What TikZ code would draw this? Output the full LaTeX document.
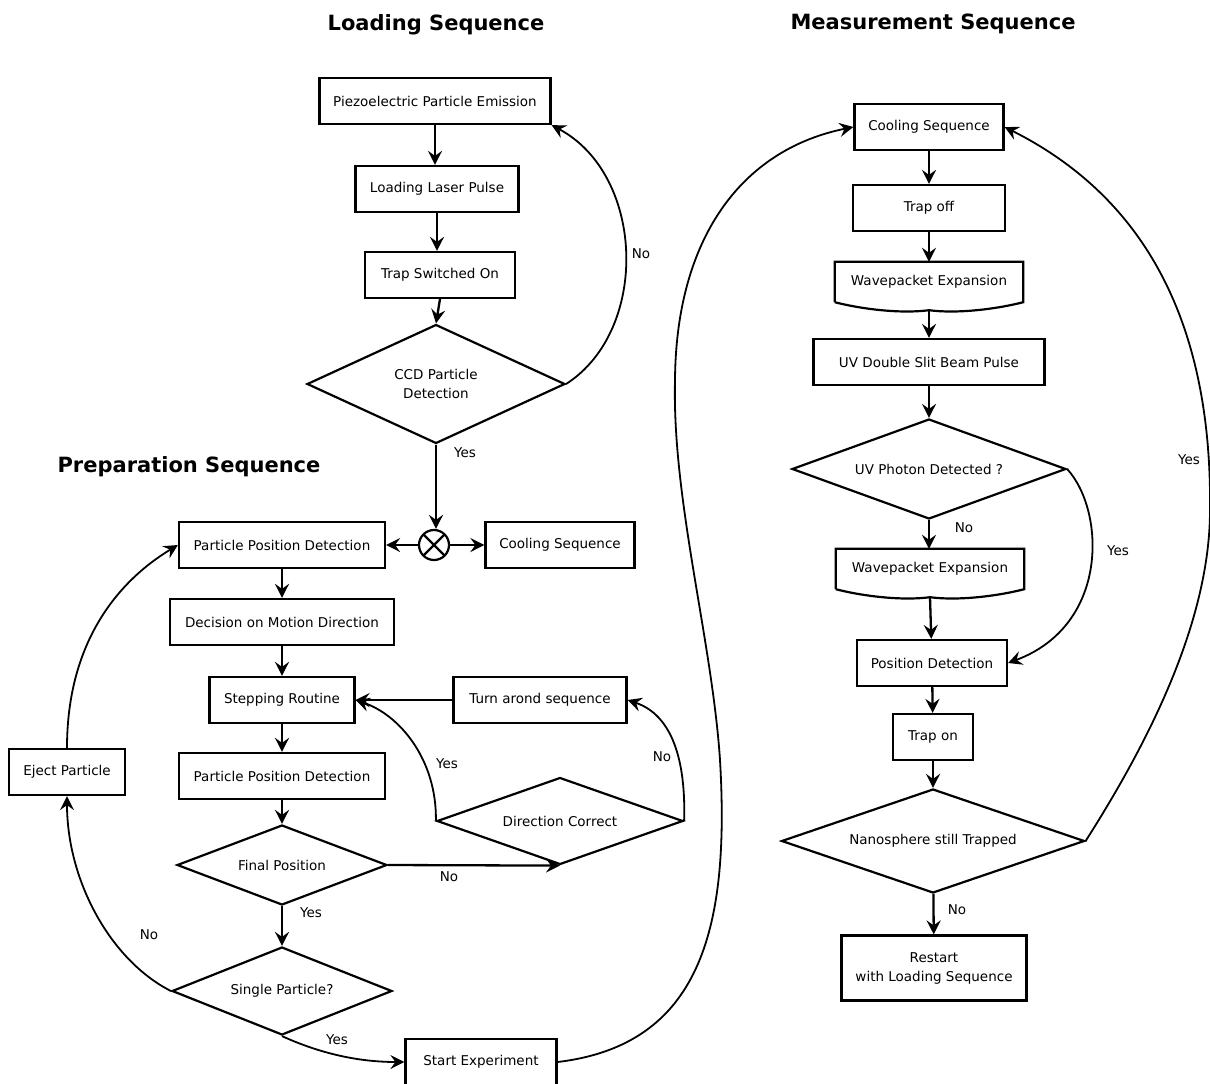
\documentclass[tikz,border=0pt]{standalone}
\usepackage{fontspec}
\setmainfont{DejaVu Sans}
\usetikzlibrary{arrows.meta,positioning,shapes.geometric}

\begin{document}
\begin{tikzpicture}[x=1pt,y=-1pt,on grid,
    font=\fontsize{13.5}{19}\selectfont,
    >={Stealth[length=14pt,width=14pt,inset=5pt]},
    block/.style={draw,line width=2.2pt,minimum height=46pt,inner xsep=10pt},
    decision/.style={diamond,draw,line width=2.2pt,aspect=2,inner sep=0pt,align=center},
    waveblock/.style={minimum width=188pt,minimum height=40pt,inner sep=0pt},
    junction/.style={circle,draw,line width=2.2pt,minimum size=30pt,inner sep=0pt,
      path picture={\draw[line width=2.2pt]
        (path picture bounding box.north west) -- (path picture bounding box.south east)
        (path picture bounding box.north east) -- (path picture bounding box.south west);}},
    title/.style={font=\fontsize{21}{25}\selectfont\bfseries},
    flow/.style={->,line width=2.3pt},
    loop/.style={->,line width=1.8pt}]
  \useasboundingbox (0,0) rectangle (1210,1084);

  % titles
  \node[title] (tload) at (436,25)  {Loading Sequence};
  \node[title] (tprep) at (189,467) {Preparation Sequence};
  \node[title] (tmeas) at (933,24)  {Measurement Sequence};

  % loading sequence
  \node[block,minimum width=231pt] (pe)  at (435,101)          {Piezoelectric Particle Emission};
  \node[block,minimum width=163pt] (llp) [below=88pt of pe,xshift=2pt]  {Loading Laser Pulse};
  \node[block,minimum width=150pt] (tso) [below=86pt of llp,xshift=3pt] {Trap Switched On};
  \node[decision,minimum width=258pt,minimum height=119pt] (ccd) at (436,384) {CCD Particle\\Detection};
  \node[junction] (mix) [below=161pt of ccd,xshift=-2pt] {};

  % preparation sequence
  \node[block,minimum width=206pt] (ppd)  [left=152pt of mix]  {Particle Position Detection};
  \node[block,minimum width=149pt] (cool) [right=126pt of mix] {Cooling Sequence};
  \node[block,minimum width=224pt] (dmd)  [below=77pt of ppd]  {Decision on Motion Direction};
  \node[block,minimum width=145pt] (sr)   [below=78pt of dmd]  {Stepping Routine};
  \node[block,minimum width=173pt] (tas)  [right=258pt of sr]  {Turn arond sequence};
  \node[block,minimum width=206pt] (ppd2) [below=76pt of sr]   {Particle Position Detection};
  \node[decision,minimum width=210pt,minimum height=80pt] (fp) [below=89pt of ppd2] {Final Position};
  \node[decision,minimum width=246pt,minimum height=87pt] (dc) at (560,821) {Direction Correct};
  \node[decision,minimum width=220pt,minimum height=88pt] (sp) [below=126pt of fp] {Single Particle?};
  \node[block,minimum width=116pt] (ej) at (67,772)  {Eject Particle};
  \node[block,minimum width=151pt] (se) at (481,1062) {Start Experiment};

  % measurement sequence
  \node[block,minimum width=149pt] (coolm) at (929,127)          {Cooling Sequence};
  \node[block,minimum width=152pt] (toff)  [below=81pt of coolm] {Trap off};
  \node[waveblock] (we1) [below=74pt of toff] {Wavepacket Expansion};
  \node[block,minimum width=231pt] (uv)    [below=80pt of we1]   {UV Double Slit Beam Pulse};
  \node[decision,minimum width=274pt,minimum height=100pt] (upd) [below=107pt of uv] {UV Photon Detected ?};
  \node[waveblock] (we2) [below=100pt of upd,xshift=1pt] {Wavepacket Expansion};
  \node[block,minimum width=150pt] (pd)    [below=94pt of we2,xshift=2pt] {Position Detection};
  \node[block,minimum width=80pt]  (ton)   [below=74pt of pd,xshift=1pt]  {Trap on};
  \node[decision,minimum width=303pt,minimum height=104pt] (nst) [below=104pt of ton] {Nanosphere still Trapped};
  \node[block,minimum width=185pt,minimum height=65pt,align=center] (rst) [below=127pt of nst,xshift=1pt] {Restart\\with Loading Sequence};

  % wavy bottoms
  \foreach \w in {we1,we2}
    \draw[line width=2.2pt] (\w.south west) -- (\w.north west) -- (\w.north east) -- (\w.south east)
      .. controls +(-23,6) and +(31,4) .. ([yshift=-8pt]\w.south)
      .. controls +(-31,4) and +(23,6) .. (\w.south west);

  % loading edges
  \draw[flow] (pe.south) -- (pe.south |- llp.north);
  \draw[flow] (llp.south) -- (llp.south |- tso.north);
  \draw[flow] (tso.south) -- (ccd.north);
  \draw[flow] (ccd) -- (ccd.south |- mix.north);
  \draw[loop] (ccd.east) .. controls (650,330) and (645,175) .. (pe.south east);
  \draw[flow] (mix) -- (ppd);
  \draw[flow] (mix) -- (cool);

  % preparation edges
  \draw[flow] (ppd) -- (dmd);
  \draw[flow] (dmd) -- (sr);
  \draw[flow] (sr) -- (ppd2);
  \draw[flow] (ppd2) -- (fp);
  \draw[flow] (tas) -- (sr.east);
  \draw[flow] (fp.east) -- (dc.south);
  \draw[loop] (dc.west) .. controls (437,760) and (400,715) .. (sr.east);
  \draw[loop] (dc.east) .. controls (686,760) and (672,715) .. (tas.east);
  \draw[flow] (fp) -- (sp);
  \draw[loop] (sp.west) .. controls (110,960) and (67,880) .. (ej.south);
  \draw[loop] (ej.north) .. controls (67,640) and (120,580) .. (ppd.west);
  \draw[loop] (sp.south) .. controls (330,1058) and (370,1062) .. (se.west);
  \draw[loop] (se.east) .. controls (700,1045) and (730,930) .. (720,760)
    .. controls (712,640) and (672,500) .. (675,380)
    .. controls (676,240) and (740,150) .. (coolm.west);

  % measurement edges
  \draw[flow] (coolm) -- (toff);
  \draw[flow] (toff) -- (we1);
  \draw[flow] ([yshift=-8pt]we1.south) -- (uv);
  \draw[flow] (uv) -- (upd);
  \draw[flow] (upd.south) -- (upd.south |- we2.north);
  \draw[flow] ([yshift=-8pt]we2.south) -- (pd);
  \draw[flow] (pd) -- (ton);
  \draw[flow] (ton) -- (nst);
  \draw[flow] (nst) -- (rst);
  \draw[loop] (upd.east) .. controls (1105,510) and (1110,625) .. (pd.east);
  \draw[loop] (nst.east) .. controls (1150,740) and (1210,620) .. (1210,510)
    .. controls (1212,330) and (1150,200) .. (coolm.east);

  % labels
  \node (lno1)  at (641,254)  {No};
  \node (lyes1) at (465,453)  {Yes};
  \node (lyes2) at (447,764)  {Yes};
  \node (lno2)  at (662,757)  {No};
  \node (lno3)  at (449,877)  {No};
  \node (lyes3) at (311,913)  {Yes};
  \node (lno4)  at (149,935)  {No};
  \node (lyes4) at (337,1040) {Yes};
  \node (lno5)  at (964,528)  {No};
  \node (lyes5) at (1118,551) {Yes};
  \node (lyes6) at (1189,460) {Yes};
  \node (lno6)  at (957,910)  {No};
\end{tikzpicture}
\end{document}
